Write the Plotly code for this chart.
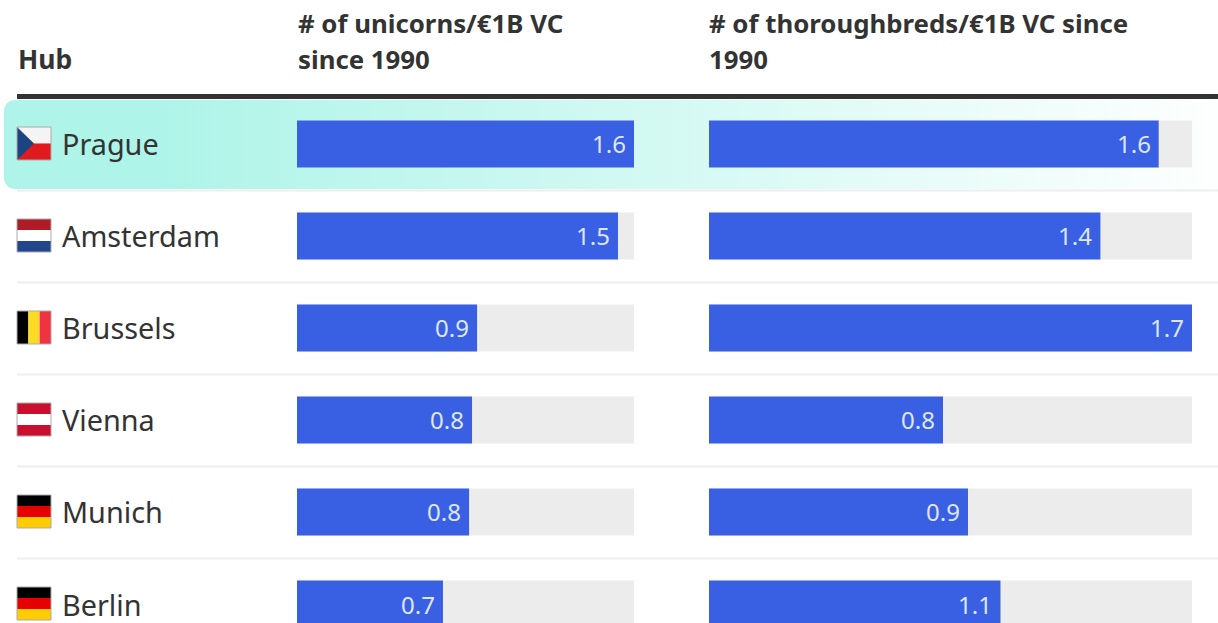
import base64
import plotly.graph_objects as go

W, H = 1218, 623
FONT = "Noto Sans"
INK = "#333333"
BLUE = "#3960e3"
TRACK = "#ececec"

hubs = ["Prague", "Amsterdam", "Brussels", "Vienna", "Munich", "Berlin"]
unicorns = [1.6, 1.524, 0.855, 0.831, 0.817, 0.693]
unicorn_labels = ["1.6", "1.5", "0.9", "0.8", "0.8", "0.7"]
thoroughbreds = [1.62, 1.41, 1.74, 0.843, 0.933, 1.05]
thoroughbred_labels = ["1.6", "1.4", "1.7", "0.8", "0.9", "1.1"]
header_hub = "Hub"
header_unicorns = ["# of unicorns/€1B VC", "since 1990"]
header_thoroughbreds = ["# of thoroughbreds/€1B VC since", "1990"]
unicorn_max = 1.6
thoroughbred_max = 1.74

# horizontal stripes, top to bottom; Prague gets an extra triangle
flags = {
    "Prague": ["#f4f4f4", "#e01a1f"],
    "Amsterdam": ["#ae1c28", "#ffffff", "#21468b"],
    "Vienna": ["#c8102e", "#ffffff", "#c8102e"],
    "Munich": ["#000000", "#e60000", "#ffcc00"],
    "Berlin": ["#000000", "#e60000", "#ffcc00"],
}
brussels_flag = ["#000000", "#fdda24", "#ef3340"]


def px(x):
    return x / W


def py(y):
    return 1 - y / H


ROW = 92
PLOT_TOP = 98
y_range = [(H - PLOT_TOP) / ROW - 0.5, -0.5]
y_dom = [0, py(PLOT_TOP)]

fig = go.Figure()
rows = list(range(len(hubs)))
for vals, mx, xa in [(unicorns, unicorn_max, "x"), (thoroughbreds, thoroughbred_max, "x2")]:
    fig.add_bar(y=rows, x=[mx] * len(rows), orientation="h", marker=dict(color=TRACK, line_width=0),
                xaxis=xa, yaxis="y", hoverinfo="skip", showlegend=False)
    fig.add_bar(y=rows, x=vals, orientation="h", marker=dict(color=BLUE, line_width=0),
                xaxis=xa, yaxis="y", showlegend=False)

ann = []
shapes = []


def text(x, y, s, size, bold=False, color=INK, anchor="left"):
    ann.append(dict(x=px(x), y=py(y), xref="paper", yref="paper", text=f"<b>{s}</b>" if bold else s,
                    showarrow=False, xanchor=anchor, yanchor="middle",
                    font=dict(family=FONT, size=size, color=color), borderpad=0))


HEAD = 25.8
text(17, 59, header_hub, 26.5, True)
for i, s in enumerate(header_unicorns):
    text(297, 23.5 + 35 * i, s, HEAD, True)
for i, s in enumerate(header_thoroughbreds):
    text(708, 23.5 + 35 * i, s, HEAD, True)

for i, hub in enumerate(hubs):
    ann.append(dict(x=px(60), y=i, xref="paper", yref="y", text=hub, showarrow=False, xanchor="left",
                    yanchor="middle", font=dict(family=FONT, size=28.8, color=INK)))
    ann.append(dict(x=unicorns[i], y=i, xref="x", yref="y", text=unicorn_labels[i], showarrow=False,
                    xanchor="right", xshift=-6, yanchor="middle", font=dict(family=FONT, size=24, color="#dfe6fa")))
    ann.append(dict(x=thoroughbreds[i], y=i, xref="x2", yref="y", text=thoroughbred_labels[i], showarrow=False,
                    xanchor="right", xshift=-6, yanchor="middle", font=dict(family=FONT, size=24, color="#dfe6fa")))

    # flag
    cy = 144 + ROW * i
    t, b, l, r = cy - 17, cy + 16, 17, 51
    if hub == "Brussels":
        for k, c in enumerate(brussels_flag):
            shapes.append(dict(type="rect", xref="paper", yref="paper", x0=px(l + (r - l) * k / 3),
                               x1=px(l + (r - l) * (k + 1) / 3), y0=py(t), y1=py(b),
                               fillcolor=c, line_width=0, layer="above"))
    else:
        st = flags[hub]
        for k, c in enumerate(st):
            shapes.append(dict(type="rect", xref="paper", yref="paper", x0=px(l), x1=px(r),
                               y0=py(t + (b - t) * k / len(st)), y1=py(t + (b - t) * (k + 1) / len(st)),
                               fillcolor=c, line_width=0, layer="above"))
        if hub == "Prague":
            shapes.append(dict(type="path", xref="paper", yref="paper",
                               path=f"M {px(l)} {py(t)} L {px(l + 17)} {py((t + b) / 2)} L {px(l)} {py(b)} Z",
                               fillcolor="#1c4482", line_width=0, layer="above"))
    shapes.append(dict(type="rect", xref="paper", yref="paper", x0=px(l), x1=px(r), y0=py(t), y1=py(b),
                       line=dict(color="#aaaaaa", width=1), fillcolor="rgba(0,0,0,0)", layer="above"))

    # row separator
    sep = 190.5 + ROW * i
    if sep < H:
        shapes.append(dict(type="line", xref="paper", yref="paper", x0=px(17), x1=1, y0=py(sep), y1=py(sep),
                           line=dict(color="#eeeeee", width=2), layer="below"))

# header rule
shapes.append(dict(type="line", xref="paper", yref="paper", x0=px(17), x1=1, y0=py(96.5), y1=py(96.5),
                   line=dict(color=INK, width=5), layer="above"))

# highlight band with fading gradient
svg = f'''<svg xmlns="http://www.w3.org/2000/svg" width="{W}" height="{H}" viewBox="0 0 {W} {H}">
<defs><linearGradient id="g" x1="0" x2="1" y1="0" y2="0">
<stop offset="0" stop-color="#aef4e8"/><stop offset="0.12" stop-color="#aef4e8"/><stop offset="1" stop-color="#ffffff"/>
</linearGradient></defs>
<rect x="4" y="100" width="1240" height="89" rx="11" ry="11" fill="url(#g)"/></svg>'''
uri = "data:image/svg+xml;base64," + base64.b64encode(svg.encode()).decode()

fig.update_layout(
    width=W, height=H, margin=dict(l=0, r=0, t=0, b=0), barmode="overlay", bargap=1 - 47 / ROW,
    paper_bgcolor="white", plot_bgcolor="rgba(0,0,0,0)",
    xaxis=dict(domain=[px(297), px(634)], range=[0, unicorn_max], visible=False, fixedrange=True),
    xaxis2=dict(domain=[px(709), px(1192)], range=[0, thoroughbred_max], visible=False, fixedrange=True, anchor="y"),
    yaxis=dict(domain=y_dom, range=y_range, visible=False, fixedrange=True),
    annotations=ann, shapes=shapes,
    images=[dict(source=uri, xref="paper", yref="paper", x=0, y=1, sizex=1, sizey=1, sizing="stretch",
                 xanchor="left", yanchor="top", layer="below")],
    showlegend=False,
)
fig.write_html("out.html", config={"displayModeBar": False},
               post_script="document.body.style.margin='0';document.documentElement.style.overflow='hidden';")
